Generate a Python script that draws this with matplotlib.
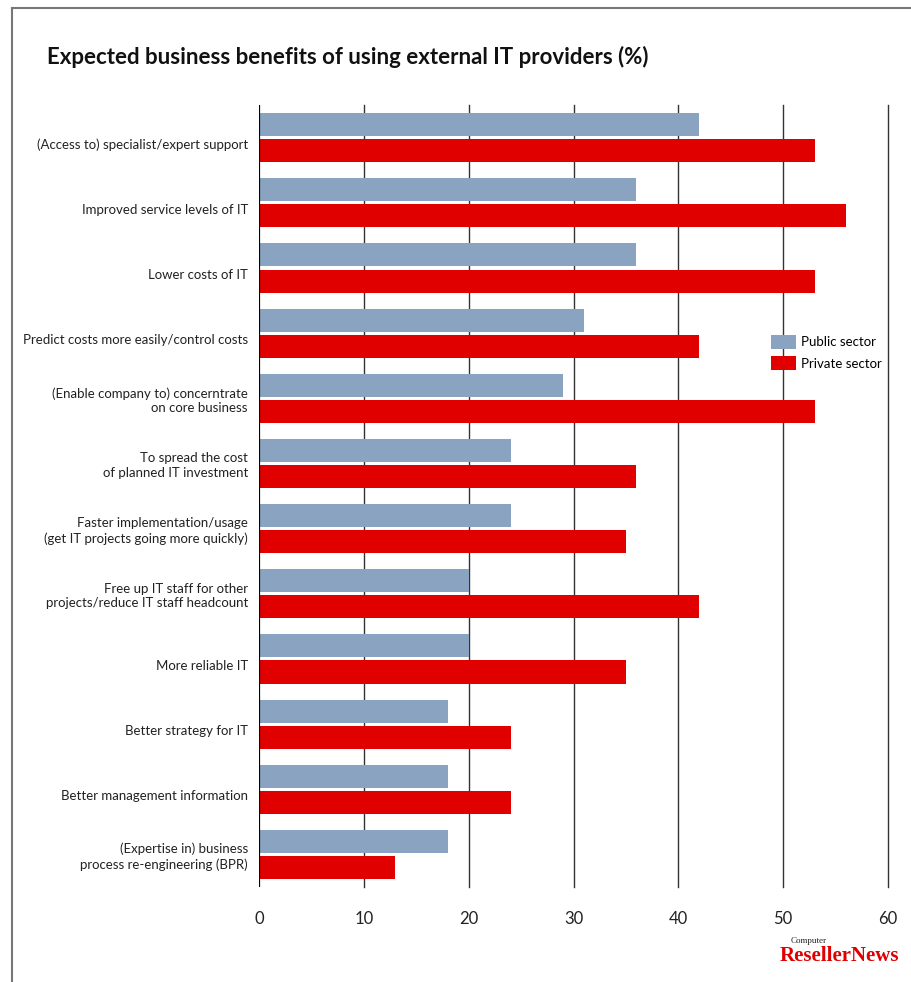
import numpy as np
import matplotlib
matplotlib.use("Agg")
import matplotlib.pyplot as plt
from matplotlib.patches import Patch
from matplotlib.lines import Line2D

plt.rcParams['font.family'] = ['Lato', 'DejaVu Sans']

categories = [
    "(Access to) specialist/expert support",
    "Improved service levels of IT",
    "Lower costs of IT",
    "Predict costs more easily/control costs",
    "(Enable company to) concerntrate\non core business",
    "To spread the cost\nof planned IT investment",
    "Faster implementation/usage\n(get IT projects going more quickly)",
    "Free up IT staff for other\nprojects/reduce IT staff headcount",
    "More reliable IT",
    "Better strategy for IT",
    "Better management information",
    "(Expertise in) business\nprocess re-engineering (BPR)",
]
public = [42, 36, 36, 31, 29, 24, 24, 20, 20, 18, 18, 18]
private = [53, 56, 53, 42, 53, 36, 35, 42, 35, 24, 24, 13]
xticks = [0, 10, 20, 30, 40, 50, 60]

c_pub = "#8aa3c1"
c_priv = "#e00000"

fig = plt.figure(figsize=(9.11, 9.82), dpi=100)
ax = fig.add_axes([0.2843, 0.0967, 0.6905, 0.7963])

y = np.arange(len(categories))
h = 0.353
ax.barh(y - 0.2, public, height=h, color=c_pub, zorder=3)
ax.barh(y + 0.2, private, height=h, color=c_priv, zorder=3)

ax.set_xlim(0, 60)
ax.set_ylim(11.5, -0.5)
for s in ax.spines.values():
    s.set_visible(False)
for xv in xticks[1:]:
    ax.axvline(xv, color="#333333", lw=1, zorder=1, clip_on=False)
ax.axvline(0, color="black", lw=1.6, zorder=4)

ax.set_xticks(xticks)
ax.set_xticklabels([str(v) for v in xticks], fontsize=12, color="#222222")
ax.tick_params(axis="x", length=0, pad=17)

ypos = [i + (0.09 if "\n" not in c else 0) for i, c in enumerate(categories)]
ax.set_yticks(ypos)
ax.set_yticklabels(categories, fontsize=9.5, color="#222222", linespacing=1.25)
ax.tick_params(axis="y", length=0, pad=8)

fig.text(0.052, 0.942, "Expected business benefits of using external IT providers (%)",
         fontsize=16, fontweight="bold", color="#111111", va="center")

handles = [Patch(facecolor=c_pub, label="Public sector"),
           Patch(facecolor=c_priv, label="Private sector")]
fig.legend(handles=handles, loc="center left", bbox_to_anchor=(0.840, 0.641),
           frameon=False, fontsize=9.5, handlelength=1.9, handleheight=1.2,
           handletextpad=0.4, labelspacing=0.6, borderaxespad=0)

# frame lines
fig.add_artist(Line2D([0.0132, 0.0132], [0, 0.9919], color="#777777", lw=1.5))
fig.add_artist(Line2D([0.0132, 1.0], [0.9919, 0.9919], color="#777777", lw=1.5))

# logo
fig.text(0.868, 0.0375, "Computer", fontsize=6.5, family="Liberation Serif",
         color="#222222", va="bottom", ha="left")
fig.text(0.987, 0.016, "ResellerNews", fontsize=15, family="Liberation Serif",
         fontweight="bold", color=c_priv, ha="right", va="bottom")

plt.savefig("out.png", dpi=100)
